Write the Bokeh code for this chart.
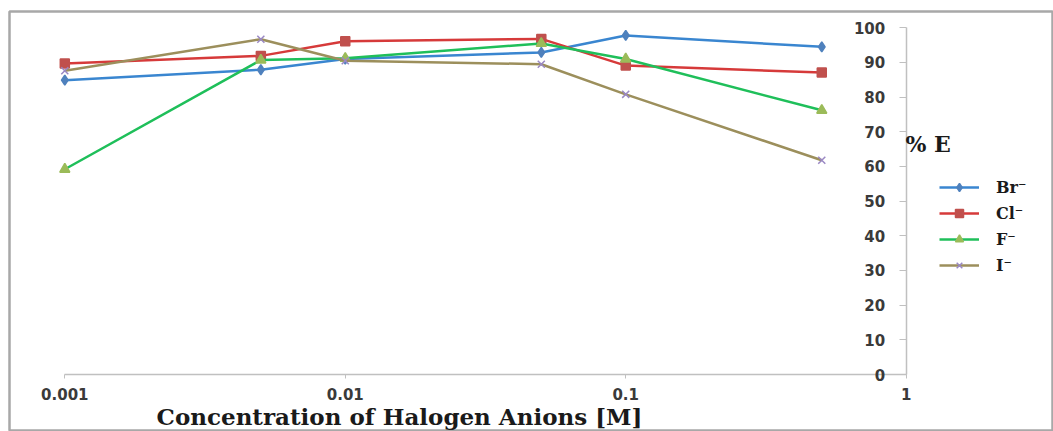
import math
from bokeh.plotting import figure
from bokeh.models import (Range1d, FixedTicker, CustomJSTickFormatter, Legend,
                          LegendItem, Label)
from bokeh.embed import file_html
from bokeh.resources import INLINE

# ---- data ----
conc = [0.001, 0.005, 0.01, 0.05, 0.1, 0.5]
br_vals = [84.9, 87.9, 91.0, 92.9, 97.8, 94.5]
cl_vals = [89.7, 91.9, 96.1, 96.8, 89.1, 87.1]
f_vals = [59.2, 90.7, 91.2, 95.5, 91.0, 76.2]
i_vals = [87.6, 96.7, 90.5, 89.5, 80.8, 61.8]
series_names = ["Br\u207b", "Cl\u207b", "F\u207b", "I\u207b"]
x_ticks = [0.001, 0.01, 0.1, 1]
y_ticks = [0, 10, 20, 30, 40, 50, 60, 70, 80, 90, 100]
x_title = "Concentration of Halogen Anions [M]"
y_title = "% E"

# ---- layout (pixel geometry of the frame) ----
W, H = 1053, 431
FL, FT = 9, 11          # frame left / top on the page
px_per_dec = 280.47
x_start = 10 ** (-3 + (FL - 64.3) / px_per_dec)
x_end = 10 ** ((W - 905.7) / px_per_dec)
px_per_unit = 3.467
y_start = (374 - H) / px_per_unit
y_end = (374 - FT) / px_per_unit

p = figure(width=W, height=H, x_axis_type="log", output_backend="svg",
           toolbar_location=None,
           x_range=Range1d(x_start, x_end), y_range=Range1d(y_start, y_end),
           min_border_left=FL, min_border_top=FT, min_border_right=0,
           min_border_bottom=0)
p.background_fill_color = "white"
p.border_fill_color = "white"
p.outline_line_color = "#a8a8a8"
p.outline_line_width = 2.5
p.grid.visible = False

AX = "#c0c0c0"
LBL = "#3a3a3a"

xa = p.xaxis[0]
xa.fixed_location = 0
xa.bounds = (x_ticks[0], x_ticks[-1])
xa.ticker = FixedTicker(ticks=x_ticks, minor_ticks=[])
xa.formatter = CustomJSTickFormatter(code="return String(tick)")
xa.axis_line_color = AX
xa.axis_line_width = 1.5
xa.major_tick_line_color = AX
xa.major_tick_out = 4
xa.major_tick_in = 0
xa.minor_tick_line_color = None
xa.major_label_text_font = "DejaVu Sans"
xa.major_label_text_font_style = "bold"
xa.major_label_text_font_size = "15px"
xa.major_label_text_color = LBL
xa.major_label_standoff = 9

ya = p.yaxis[0]
ya.fixed_location = 1
ya.bounds = (y_ticks[0], y_ticks[-1])
ya.ticker = FixedTicker(ticks=y_ticks, minor_ticks=[])
ya.axis_line_color = AX
ya.axis_line_width = 1.5
ya.major_tick_line_color = AX
ya.major_tick_out = 7
ya.major_tick_in = 0
ya.minor_tick_line_color = None
ya.major_label_text_font = "DejaVu Sans"
ya.major_label_text_font_style = "bold"
ya.major_label_text_font_size = "15px"
ya.major_label_text_color = LBL
ya.major_label_standoff = 14

styles = [
    (br_vals, "#3a86d0", "diamond", "#4f81bd", 10),
    (cl_vals, "#d63a3a", "square", "#c0504d", 9),
    (f_vals, "#1fbf5a", "triangle", "#9bbb59", 10),
    (i_vals, "#9c8f5c", "x", "#9a88c4", 10),
]
items = []
for name, (vals, lc, mk, mc, sz) in zip(series_names, styles):
    ln = p.line(conc, vals, line_color=lc, line_width=2.5)
    sc = p.scatter(conc, vals, marker=mk, size=sz, fill_color=mc,
                   line_color=mc, line_width=1.5)
    items.append(LegendItem(label=name, renderers=[ln, sc]))

legend = Legend(items=items, location=(930, 156), padding=0, margin=0,
                border_line_color=None, background_fill_alpha=0,
                glyph_width=40, glyph_height=20, label_height=20, spacing=6,
                label_standoff=17, label_text_font="DejaVu Serif",
                label_text_font_style="bold", label_text_font_size="16px",
                label_text_color="#1a1a1a")
p.add_layout(legend)

p.add_layout(Label(x=390, y=15, x_units="screen", y_units="screen",
                   text=x_title, text_align="center", text_baseline="middle",
                   text_font="DejaVu Serif", text_font_style="bold",
                   text_font_size="23px", text_color="#1a1a1a"))
p.add_layout(Label(x=896, y=288, x_units="screen", y_units="screen",
                   text=y_title, text_align="left", text_baseline="middle",
                   text_font="DejaVu Serif", text_font_style="bold",
                   text_font_size="22px", text_color="#1a1a1a"))

open("out.html", "w").write(file_html(p, INLINE))
